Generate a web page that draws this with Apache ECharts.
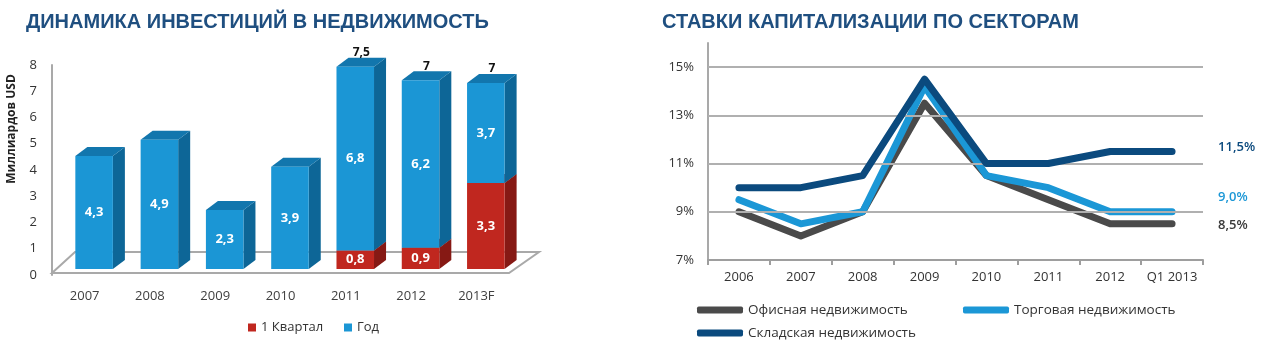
<!DOCTYPE html>
<html>
<head>
<meta charset="utf-8">
<script src="https://cdn.jsdelivr.net/npm/echarts@6/dist/echarts.min.js"></script>
<style>
  html, body { margin: 0; padding: 0; background: #ffffff; }
  #chart { width: 1276px; height: 344px; }
</style>
</head>
<body>
<div id="chart"></div>
<script>
// Investment volume, billions USD
const investYears = ['2007', '2008', '2009', '2010', '2011', '2012', '2013F'];
const firstQuarter = [null, null, null, null, 0.8, 0.9, 3.3];
const fullYear = [4.3, 4.9, 2.3, 3.9, 6.8, 6.2, 3.7];
const yearTotals = [null, null, null, null, 7.5, 7, 7];
const investTicks = [0, 1, 2, 3, 4, 5, 6, 7, 8];

// Capitalisation rates by sector, %
const ratePeriods = ['2006', '2007', '2008', '2009', '2010', '2011', '2012', 'Q1 2013'];
const officeRates = [9, 8, 9, 13.5, 10.5, 9.5, 8.5, 8.5];
const retailRates = [9.5, 8.5, 9, 14.2, 10.5, 10, 9, 9];
const warehouseRates = [10, 10, 10.5, 14.5, 11, 11, 11.5, 11.5];
const rateTicks = [7, 9, 11, 13, 15];

const FONT = '"Open Sans", "Noto Sans", sans-serif';
const BLUE = { front: '#1b96d5', side: '#0d6697', top: '#1276ad' };
const RED = { front: '#c0271f', side: '#861914', top: '#a3211a' };
const GRAY_LINE = '#4a4a4a', LIGHT_LINE = '#1b97d6', NAVY_LINE = '#0b4a7e';

const fmtNum = v => String(v).replace('.', ',');

// 3D-looking bar: front face, right side and top face
function bar3d(colors, showTotals) {
  return function (params, api) {
    const cat = api.value(0), start = api.value(1), end = api.value(2);
    const band = api.size([1, 0])[0];
    const zeroY = api.coord([cat, 0])[1];
    const pTop = api.coord([cat, end]);
    const pBottom = api.coord([cat, start]);
    const w = band * 0.575;
    const cx = pTop[0] + band * 0.145;
    const x0 = cx - w / 2, x1 = cx + w / 2;
    const yt = pTop[1];
    const yb = Math.min(pBottom[1], zeroY - 3);
    const dx = band * 0.184, dy = band * 0.138;
    const children = [
      { type: 'polygon', shape: { points: [[x1, yt], [x1 + dx, yt - dy], [x1 + dx, yb - dy], [x1, yb]] },
        style: { fill: colors.side } },
      { type: 'polygon', shape: { points: [[x0, yt], [x0 + dx, yt - dy], [x1 + dx, yt - dy], [x1, yt]] },
        style: { fill: colors.top } },
      { type: 'rect', shape: { x: x0, y: yt, width: w, height: yb - yt },
        style: { fill: colors.front } },
      { type: 'text', x: cx, y: (yt + yb) / 2,
        style: { text: fmtNum(api.value(3)), fill: '#ffffff', font: 'bold 13px ' + FONT,
                 align: 'center', verticalAlign: 'middle' } }
    ];
    if (showTotals) {
      const t = yearTotals[cat];
      if (t != null) {
        children.push({ type: 'text', x: cx + dx / 2, y: yt - 14,
          style: { text: fmtNum(t), fill: '#111111', font: 'bold 12px ' + FONT,
                   align: 'center', verticalAlign: 'middle' } });
      }
    }
    return { type: 'group', children };
  };
}

// floor plane under the bars
function floorItem(params, api) {
  const band = api.size([1, 0])[0];
  const first = api.coord([0, 0]);
  const last = api.coord([investYears.length - 1, 0]);
  const left = first[0] - band / 2, right = last[0] + band / 2;
  const y = first[1];
  return {
    type: 'polygon',
    shape: { points: [[left, y + 1], [left + 23, y - 20], [right + 30, y - 20], [right, y + 1]] },
    style: { fill: '#ffffff', stroke: '#a9a9a9', lineWidth: 2 }
  };
}

const redData = [], blueData = [];
investYears.forEach((_, i) => {
  const q = firstQuarter[i] || 0;
  if (firstQuarter[i] != null) redData.push([i, 0, q, firstQuarter[i]]);
  blueData.push([i, q, q + fullYear[i], fullYear[i]]);
});

const chart = echarts.init(document.getElementById('chart'), null, { renderer: 'canvas' });

const lineCommon = {
  type: 'line', xAxisIndex: 2, yAxisIndex: 2, symbol: 'none',
  lineStyle: { width: 7, cap: 'round', join: 'round' }
};
const endLabel = (color, dy) => ({
  show: true, distance: 46, offset: [0, dy], color: color,
  fontFamily: FONT, fontSize: 13, fontWeight: 600,
  formatter: p => fmtNum(Number(p.value).toFixed(1)) + '%'
});
const legendText = { fontSize: 13, color: '#333333', fontFamily: FONT };

chart.setOption({
  animation: false,
  backgroundColor: '#ffffff',
  textStyle: { fontFamily: FONT },
  title: [
    { text: 'ДИНАМИКА ИНВЕСТИЦИЙ В НЕДВИЖИМОСТЬ', left: 21, top: 7,
      textStyle: { fontFamily: '"Liberation Sans", Arial, sans-serif', fontSize: 20, fontWeight: 'bold', color: '#1f4f80' } },
    { text: 'СТАВКИ КАПИТАЛИЗАЦИИ ПО СЕКТОРАМ', left: 657, top: 7,
      textStyle: { fontFamily: '"Liberation Sans", Arial, sans-serif', fontSize: 20, fontWeight: 'bold', color: '#1f4f80' } }
  ],
  legend: [
    { data: ['1 Квартал'], left: 243, top: 316, icon: 'rect', itemWidth: 8, itemHeight: 8, textStyle: legendText },
    { data: ['Год'], left: 339, top: 316, icon: 'rect', itemWidth: 8, itemHeight: 8, textStyle: legendText },
    { data: ['Офисная недвижимость'], left: 692, top: 298, icon: 'roundRect', itemWidth: 46, itemHeight: 7,
      itemGap: 0, textStyle: Object.assign({}, legendText, { fontSize: 13.5 }) },
    { data: ['Торговая недвижимость'], left: 958, top: 298, icon: 'roundRect', itemWidth: 46, itemHeight: 7,
      textStyle: Object.assign({}, legendText, { fontSize: 13.5 }) },
    { data: ['Складская недвижимость'], left: 692, top: 321, icon: 'roundRect', itemWidth: 46, itemHeight: 7,
      textStyle: Object.assign({}, legendText, { fontSize: 13.5 }) }
  ],
  graphic: [
    { type: 'text', x: 12, y: 129, rotation: Math.PI / 2,
      style: { text: 'Миллиардов USD', font: 'bold 12px ' + FONT, fill: '#222222',
               align: 'center', verticalAlign: 'middle' } }
  ],
  grid: [
    { left: 52, width: 457, top: 56, bottom: 72 },   // bars
    { left: 52, width: 457, top: 65, bottom: 69 },   // value wall
    { left: 708, width: 495, top: 43, bottom: 84 }   // rates
  ],
  xAxis: [
    { gridIndex: 0, type: 'category', data: investYears,
      axisLine: { show: false }, axisTick: { show: false },
      axisLabel: { margin: 18, fontSize: 13, color: '#404040', fontFamily: FONT } },
    { gridIndex: 1, type: 'category', data: investYears, show: false },
    { gridIndex: 2, type: 'category', data: ratePeriods, boundaryGap: true,
      axisLine: { lineStyle: { color: '#9e9e9e', width: 2 } },
      axisTick: { show: true, length: 5, interval: 0, lineStyle: { color: '#9e9e9e', width: 2 } },
      axisLabel: { margin: 11, interval: 0, fontSize: 13, color: '#333333', fontFamily: FONT } }
  ],
  yAxis: [
    { gridIndex: 0, type: 'value', min: 0, max: 8, interval: 1, show: false },
    { gridIndex: 1, type: 'value', min: investTicks[0], max: investTicks[investTicks.length - 1], interval: 1,
      axisLine: { show: true, lineStyle: { color: '#a9a9a9', width: 2 } },
      axisTick: { show: false }, splitLine: { show: false },
      axisLabel: { margin: 15, fontSize: 13, color: '#333333', fontFamily: FONT } },
    { gridIndex: 2, type: 'value', min: 7, max: 16, interval: 1,
      axisLine: { show: true, lineStyle: { color: '#a9a9a9', width: 2 } },
      axisTick: { show: false }, splitLine: { show: false },
      axisLabel: { margin: 14, fontSize: 13, color: '#333333', fontFamily: FONT,
                   formatter: v => rateTicks.indexOf(v) >= 0 ? v + '%' : '' } }
  ],
  series: [
    { type: 'custom', name: 'floor', xAxisIndex: 0, yAxisIndex: 0, silent: true, z: 1,
      renderItem: floorItem, data: [[0, 0]] },
    { type: 'custom', name: '1 Квартал', xAxisIndex: 0, yAxisIndex: 0, z: 2,
      itemStyle: { color: RED.front },
      encode: { x: 0, y: [1, 2] },
      renderItem: bar3d(RED, false), data: redData },
    { type: 'custom', name: 'Год', xAxisIndex: 0, yAxisIndex: 0, z: 3,
      itemStyle: { color: BLUE.front },
      encode: { x: 0, y: [1, 2] },
      renderItem: bar3d(BLUE, true), data: blueData },
    Object.assign({}, lineCommon, {
      name: 'Офисная недвижимость', data: officeRates, color: GRAY_LINE,
      endLabel: endLabel('#3a3a3a', 1),
      markLine: {
        silent: true, symbol: 'none', label: { show: false },
        lineStyle: { color: '#b0b0b0', width: 2, type: 'solid' },
        data: rateTicks.slice(1).map(v => ({ yAxis: v }))
      },
      z: 3
    }),
    Object.assign({}, lineCommon, {
      name: 'Торговая недвижимость', data: retailRates, color: LIGHT_LINE,
      endLabel: endLabel(LIGHT_LINE, -14), z: 4
    }),
    Object.assign({}, lineCommon, {
      name: 'Складская недвижимость', data: warehouseRates, color: NAVY_LINE,
      endLabel: endLabel(NAVY_LINE, -4), z: 5
    })
  ]
});
</script>
</body>
</html>
